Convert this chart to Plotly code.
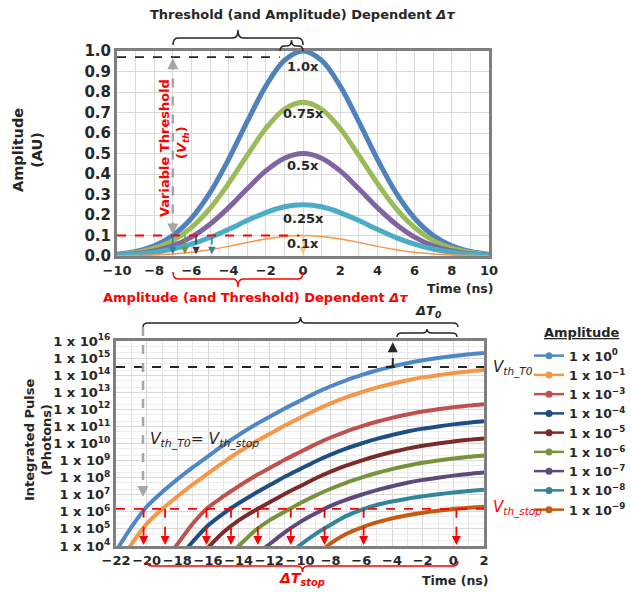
import plotly.graph_objects as go

W, H = 631, 592
def px(x): return x / W
def py(y): return 1 - y / H

FONT = "DejaVu Sans"
DARK = "#262626"
RED = "#FF0000"

# ---------------- top chart data ----------------
time_top = [-10, -9, -8, -7, -6, -5, -4, -3, -2, -1, 0, 1, 2, 3, 4, 5, 6, 7, 8, 9, 10]
amp_1_00 = [0.009, 0.022, 0.050, 0.100, 0.184, 0.309, 0.472, 0.655, 0.829, 0.954, 1.0,
            0.954, 0.829, 0.655, 0.472, 0.309, 0.184, 0.100, 0.050, 0.022, 0.009]
amp_0_75 = [0.007, 0.017, 0.038, 0.075, 0.138, 0.232, 0.354, 0.491, 0.622, 0.716, 0.75,
            0.716, 0.622, 0.491, 0.354, 0.232, 0.138, 0.075, 0.038, 0.017, 0.007]
amp_0_50 = [0.005, 0.011, 0.025, 0.050, 0.092, 0.155, 0.236, 0.328, 0.415, 0.477, 0.5,
            0.477, 0.415, 0.328, 0.236, 0.155, 0.092, 0.050, 0.025, 0.011, 0.005]
amp_0_25 = [0.004, 0.009, 0.018, 0.034, 0.058, 0.090, 0.130, 0.173, 0.212, 0.240, 0.25,
            0.240, 0.212, 0.173, 0.130, 0.090, 0.058, 0.034, 0.018, 0.009, 0.004]
amp_0_10 = [0.001, 0.002, 0.005, 0.010, 0.018, 0.031, 0.047, 0.066, 0.083, 0.095, 0.1,
            0.095, 0.083, 0.066, 0.047, 0.031, 0.018, 0.010, 0.005, 0.002, 0.001]
top_names = ["1.0x", "0.75x", "0.5x", "0.25x", "0.1x"]
top_label_y = [0.925, 0.695, 0.44, 0.185, 0.06]
top_colors = ["#4F81BD", "#9BBB59", "#8064A2", "#4BACC6", "#F79646"]
top_widths = [5, 5, 5, 5, 1.5]
threshold_top = 0.1
threshold_top_high = 0.97
cross_x_top = [-7.0, -6.35, -5.75, -4.9, 0.0]
cross_colors_top = ["#31859C", "#77933C", "#3F3151", "#31859C", "#FAC090"]

# ---------------- bottom chart data (log10 of photons) ----------------
time_bot = [-22, -21, -20, -19, -18, -17, -16, -15, -14, -13, -12, -11, -10,
            -9, -8, -7, -6, -5, -4, -3, -2, -1, 0, 1, 2]
N = None
log_a0 = [3.7, 5.1, 6.3, 7.15, 7.9, 8.6, 9.25, 9.9, 10.5, 11.05, 11.55, 12.05, 12.5,
          12.95, 13.35, 13.7, 14.0, 14.27, 14.5, 14.7, 14.87, 15.0, 15.12, 15.22, 15.3]
log_a1 = [2.7, 4.1, 5.3, 6.15, 6.9, 7.6, 8.25, 8.9, 9.5, 10.05, 10.55, 11.05, 11.5,
          11.95, 12.35, 12.7, 13.0, 13.27, 13.5, 13.7, 13.87, 14.0, 14.12, 14.22, 14.3]
log_a3 = [N, N, N, 2.9, 4.1, 5.3, 6.25, 6.9, 7.5, 8.05, 8.55, 9.05, 9.5,
          9.95, 10.35, 10.7, 11.0, 11.27, 11.5, 11.7, 11.87, 12.0, 12.12, 12.22, 12.3]
log_a4 = [N, N, N, N, 3.2, 4.25, 5.2, 5.9, 6.5, 7.05, 7.55, 8.05, 8.5,
          8.95, 9.35, 9.7, 10.0, 10.27, 10.5, 10.7, 10.87, 11.0, 11.12, 11.22, 11.3]
log_a5 = [N, N, N, N, N, 2.9, 3.9, 4.8, 5.5, 6.05, 6.55, 7.05, 7.5,
          7.95, 8.35, 8.7, 9.0, 9.27, 9.5, 9.7, 9.87, 10.0, 10.12, 10.22, 10.3]
log_a6 = [N, N, N, N, N, N, N, 3.2, 4.0, 4.85, 5.5, 6.0, 6.5,
          6.95, 7.35, 7.7, 8.0, 8.27, 8.5, 8.7, 8.87, 9.0, 9.12, 9.22, 9.3]
log_a7 = [N, N, N, N, N, N, N, N, 2.6, 3.4, 4.1, 4.8, 5.4,
          5.9, 6.35, 6.7, 7.0, 7.27, 7.5, 7.7, 7.87, 8.0, 8.12, 8.22, 8.3]
log_a8 = [N, N, N, N, N, N, N, N, N, N, 2.6, 3.3, 4.05,
          4.7, 5.25, 5.75, 6.12, 6.4, 6.6, 6.77, 6.91, 7.03, 7.13, 7.22, 7.3]
log_a9 = [N, N, N, N, N, N, N, N, N, N, N, N, 2.6,
          3.4, 4.15, 4.7, 5.08, 5.38, 5.62, 5.8, 5.95, 6.07, 6.17, 6.24, 6.3]
bot_series = [log_a0, log_a1, log_a3, log_a4, log_a5, log_a6, log_a7, log_a8, log_a9]
bot_exps = ["0", "\u22121", "\u22123", "\u22124", "\u22125", "\u22126", "\u22127", "\u22128", "\u22129"]
bot_colors = ["#4F86C6", "#F79646", "#C0504D", "#1F4E84", "#7B2C2A",
              "#77933C", "#5F497A", "#31859C", "#C55A11"]
vth_T0 = 3.0e14
vth_stop = 1.5e6
cross_x_bot = [-20.2, -18.8, -16.1, -14.5, -12.75, -10.6, -8.4, -5.85, 0.2]
cross_x_T0 = -3.95

fig = go.Figure()

# top traces
for ys, nm, col, wd in zip([amp_1_00, amp_0_75, amp_0_50, amp_0_25, amp_0_10],
                           top_names, top_colors, top_widths):
    fig.add_trace(go.Scatter(x=time_top, y=ys, mode="lines", name=nm,
                             line=dict(color=col, width=wd, shape="spline", smoothing=1.0),
                             showlegend=False, xaxis="x", yaxis="y"))

# bottom traces
for ls, col in zip(bot_series, bot_colors):
    fig.add_trace(go.Scatter(x=time_bot, y=[None if v is None else 10 ** v for v in ls],
                             mode="lines", connectgaps=False,
                             line=dict(color=col, width=4, shape="spline", smoothing=0.7),
                             showlegend=False, xaxis="x2", yaxis="y2"))
# legend entries
for e, col in zip(bot_exps, bot_colors):
    fig.add_trace(go.Scatter(x=[None], y=[None], mode="lines+markers",
                             name="1 x 10<sup>" + e + "</sup>",
                             line=dict(color=col, width=2.5),
                             marker=dict(color=col, size=7),
                             xaxis="x2", yaxis="y2"))

tickfont_y = dict(family=FONT, size=15, color=DARK, weight="bold")
tickfont_x = dict(family=FONT, size=13, color=DARK, weight="bold")
frame = dict(showline=True, linecolor="#7F7F7F", linewidth=3, mirror=True)

fig.update_layout(
    width=W, height=H, margin=dict(l=0, r=0, t=0, b=0, autoexpand=False),
    paper_bgcolor="white", plot_bgcolor="white",
    font=dict(family=FONT, color=DARK),
    xaxis=dict(domain=[px(117), px(489)], range=[-10, 10], dtick=2, tick0=0, tickangle=0,
               tickfont=tickfont_x, showgrid=True, gridcolor="#D9D9D9", gridwidth=1,
               minor=dict(dtick=1, showgrid=True, gridcolor="#D9D9D9"),
               zeroline=False, anchor="y", ticks="", automargin=False, **frame),
    yaxis=dict(domain=[py(256), py(51)], range=[0, 1.0], dtick=0.1, tickformat=".1f",
               tickfont=tickfont_y, showgrid=True, gridcolor="#D9D9D9",
               zeroline=False, anchor="x", ticks="", automargin=False, **frame),
    xaxis2=dict(domain=[px(116), px(484)], range=[-22, 2], dtick=2, tick0=0, tickangle=0,
                tickfont=tickfont_x, showgrid=True, gridcolor="#D9D9D9",
                minor=dict(dtick=1, showgrid=True, gridcolor="#E6E6E6"),
                zeroline=False, anchor="y2", ticks="", automargin=False, **frame),
    yaxis2=dict(domain=[py(546), py(341)], type="log", range=[4, 16],
                tickvals=[10 ** k for k in range(4, 17)],
                ticktext=["1 x 10<sup>%d</sup>" % k for k in range(4, 17)],
                tickfont=dict(family=FONT, size=13, color=DARK, weight="bold"),
                showgrid=True, gridcolor="#D9D9D9",
                minor=dict(dtick="D2", showgrid=True, gridcolor="#EDEDED"),
                zeroline=False, anchor="x2", ticks="", automargin=False, **frame),
    legend=dict(x=px(529), y=py(341), xanchor="left", yanchor="top",
                font=dict(family=FONT, size=12.5, color=DARK, weight="bold"),
                itemwidth=30, tracegroupgap=0, bgcolor="rgba(0,0,0,0)"),
)

shapes = []
anns = []

def txt(x, y, text, size, color=DARK, angle=0, xanchor="center", bold=True, italic=False):
    t = text
    if italic:
        t = "<i>" + t + "</i>"
    anns.append(dict(x=px(x), y=py(y), xref="paper", yref="paper", text=t, showarrow=False,
                     textangle=angle, xanchor=xanchor, yanchor="middle",
                     font=dict(family=FONT, size=size, color=color,
                               weight="bold" if bold else "normal")))

def brace(x0, x1, yb, ym, yt, color, width=1.5):
    xm = (x0 + x1) / 2
    r = min(5, (x1 - x0) / 5)
    p = (f"M {px(x0)},{py(yb)} Q {px(x0)},{py(ym)} {px(x0 + r)},{py(ym)} "
         f"L {px(xm - r)},{py(ym)} Q {px(xm)},{py(ym)} {px(xm)},{py(yt)} "
         f"Q {px(xm)},{py(ym)} {px(xm + r)},{py(ym)} L {px(x1 - r)},{py(ym)} "
         f"Q {px(x1)},{py(ym)} {px(x1)},{py(yb)}")
    shapes.append(dict(type="path", path=p, xref="paper", yref="paper",
                       line=dict(color=color, width=width)))

def arrow(x, y, xref, yref, col, ay, width=1.5, head=2):
    anns.append(dict(x=x, y=y, xref=xref, yref=yref, text="", showarrow=True,
                     ax=0, ay=ay, arrowhead=head, arrowsize=1.0, arrowwidth=width,
                     arrowcolor=col))

# ---------- top chart decorations ----------
txt(302, 14, "Threshold (and Amplitude) Dependent <i>\u0394\u03c4</i>", 13)
brace(173, 303, 45, 38, 30, DARK)
brace(280, 303, 51, 46, 40, DARK)
shapes.append(dict(type="line", xref="x", yref="y", x0=-10, x1=-1.25,
                   y0=threshold_top_high, y1=threshold_top_high,
                   line=dict(color=DARK, width=1.8, dash="dash")))
shapes.append(dict(type="line", xref="x", yref="y", x0=-10, x1=-0.2,
                   y0=threshold_top, y1=threshold_top,
                   line=dict(color=RED, width=1.8, dash="dash")))
# grey double arrow
shapes.append(dict(type="line", xref="x", yref="y", x0=-7, x1=-7, y0=0.12, y1=0.95,
                   line=dict(color="#A6A6A6", width=2.5, dash="dash")))
arrow(-7, 0.965, "x", "y", "#A6A6A6", 12, width=2.2)
arrow(-7, 0.105, "x", "y", "#A6A6A6", -12, width=2.2)
for cx, cc in zip(cross_x_top, cross_colors_top):
    shapes.append(dict(type="line", xref="x", yref="y", x0=cx, x1=cx, y0=threshold_top, y1=0.02,
                       line=dict(color=cc, width=1.5, dash="dash")))
    arrow(cx, 0.008, "x", "y", cc, -7, width=1.5)
for nm, ly in zip(top_names, top_label_y):
    anns.append(dict(x=0, y=ly, xref="x", yref="y", text=nm, showarrow=False,
                     font=dict(family=FONT, size=13, color=DARK, weight="bold")))
txt(164, 148, "Variable Threshold", 13, RED, angle=-90)
txt(182, 143, "(<i>V<sub>th</sub></i>)", 13, RED, angle=-90)
txt(27, 150, "Amplitude<br>(AU)", 14.5, DARK, angle=-90)
txt(460, 288, "Time (ns)", 12.5)
brace(173, 303, 272, 279, 287, RED)
txt(255, 297, "Amplitude (and Threshold) Dependent <i>\u0394\u03c4</i>", 13, RED)

# ---------- bottom chart decorations ----------
brace(143, 458, 327, 323, 317, DARK)
brace(397, 457, 337, 333, 329, DARK)
txt(428, 311, "\u0394T<sub>0</sub>", 13, DARK, italic=True)
shapes.append(dict(type="line", xref="x2", yref="y2", x0=-22, x1=2, y0=vth_T0, y1=vth_T0,
                   line=dict(color=DARK, width=1.8, dash="dash")))
shapes.append(dict(type="line", xref="x2", yref="y2", x0=-22, x1=2, y0=vth_stop, y1=vth_stop,
                   line=dict(color=RED, width=1.8, dash="dash")))
# grey dashed arrow down
shapes.append(dict(type="line", xref="paper", yref="paper", x0=px(143), x1=px(143),
                   y0=py(327), y1=py(490), line=dict(color="#A6A6A6", width=2.5, dash="dash")))
arrow(px(143), py(497), "paper", "paper", "#A6A6A6", -12, width=2.2)
# black caret up at T0 crossing
shapes.append(dict(type="line", xref="x2", yref="y2", x0=cross_x_T0, x1=cross_x_T0,
                   y0=vth_T0, y1=10 ** 15.75, line=dict(color=DARK, width=2, dash="dash")))
arrow(cross_x_T0, 15.92, "x2", "y2", DARK, 10, width=2)
for cx in cross_x_bot:
    shapes.append(dict(type="line", xref="x2", yref="y2", x0=cx, x1=cx,
                       y0=vth_stop, y1=10 ** 4.25, line=dict(color=RED, width=1.8, dash="dash")))
    arrow(cx, 4.06, "x2", "y2", RED, -9, width=1.8)
txt(491, 368, "V<sub>th_T0</sub>", 15, DARK, xanchor="left", bold=False, italic=True)
txt(491, 508, "V<sub>th_stop</sub>", 15, RED, xanchor="left", bold=False, italic=True)
txt(148, 440, "V<sub>th_T0</sub>= V<sub>th_stop</sub>", 15.5, DARK, xanchor="left", bold=False, italic=True)
brace(147, 458, 561, 566, 572, RED)
txt(302, 579, "\u0394T<sub>stop</sub>", 14, RED, italic=True)
txt(455, 580, "Time (ns)", 12.5)
txt(38, 440, "Integrated Pulse<br>(Photons)", 13, DARK, angle=-90)
txt(582, 332, "<u>Amplitude</u>", 13, DARK)

fig.update_layout(shapes=shapes, annotations=anns)
fig.write_html("out.html", config={"displayModeBar": False},
               post_script="document.body.style.margin='0px';document.body.style.overflow='hidden';")
